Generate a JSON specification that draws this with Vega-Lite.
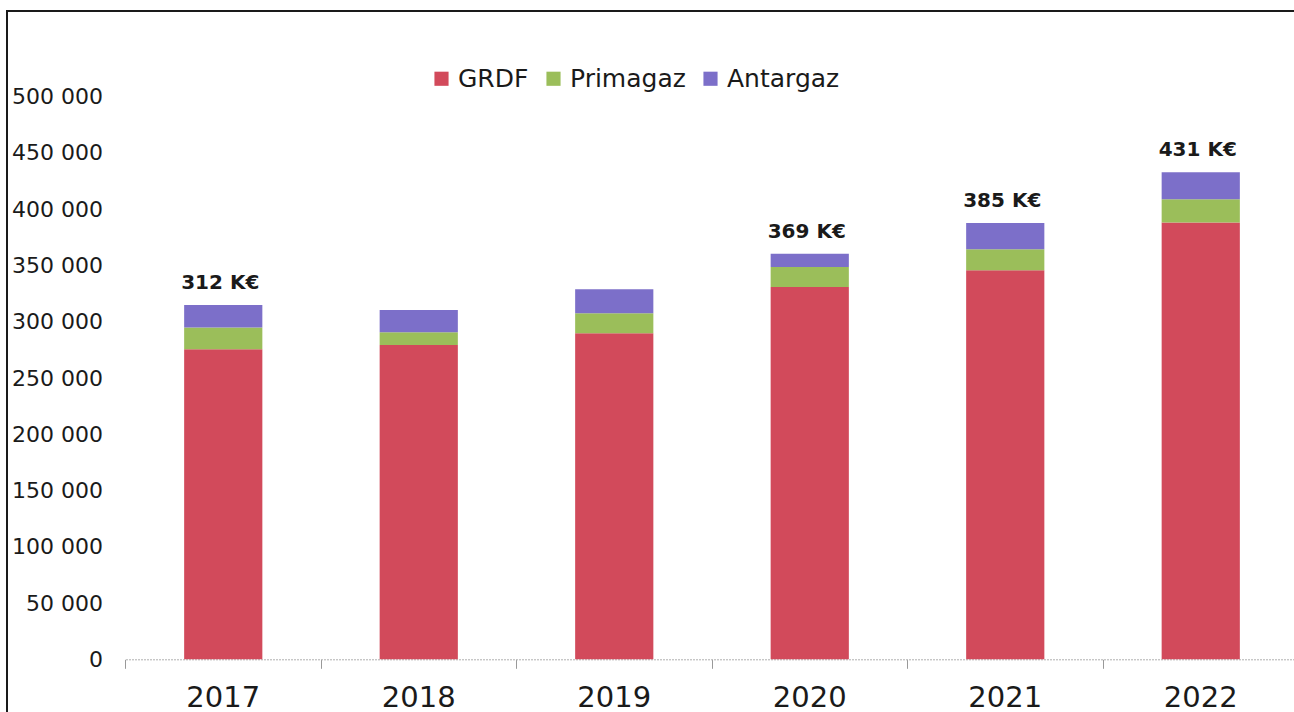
{
  "$schema": "https://vega.github.io/schema/vega-lite/v6.json",
  "autosize": "none",
  "padding": {"left": 7, "top": 11, "right": 0, "bottom": 0},
  "width": 1330,
  "height": 730,
  "background": "white",
  "config": {
    "locale": {"number": {"decimal": ",", "thousands": " ", "grouping": [3], "currency": ["", " €"]}},
    "view": {"stroke": "#1a1a1a", "strokeWidth": 2},
    "font": "DejaVu Sans"
  },
  "datasets": {
    "gaz": [
      {"year": "2017", "supplier": "GRDF", "value": 275600},
      {"year": "2017", "supplier": "Primagaz", "value": 19200},
      {"year": "2017", "supplier": "Antargaz", "value": 20100},
      {"year": "2018", "supplier": "GRDF", "value": 279400},
      {"year": "2018", "supplier": "Primagaz", "value": 11300},
      {"year": "2018", "supplier": "Antargaz", "value": 19800},
      {"year": "2019", "supplier": "GRDF", "value": 289800},
      {"year": "2019", "supplier": "Primagaz", "value": 17800},
      {"year": "2019", "supplier": "Antargaz", "value": 21300},
      {"year": "2020", "supplier": "GRDF", "value": 330900},
      {"year": "2020", "supplier": "Primagaz", "value": 17800},
      {"year": "2020", "supplier": "Antargaz", "value": 11800},
      {"year": "2021", "supplier": "GRDF", "value": 345800},
      {"year": "2021", "supplier": "Primagaz", "value": 18600},
      {"year": "2021", "supplier": "Antargaz", "value": 23400},
      {"year": "2022", "supplier": "GRDF", "value": 388100},
      {"year": "2022", "supplier": "Primagaz", "value": 20800},
      {"year": "2022", "supplier": "Antargaz", "value": 24000}
    ],
    "labels": [
      {"year": "2017", "label": "312 K€"},
      {"year": "2020", "label": "369 K€"},
      {"year": "2021", "label": "385 K€"},
      {"year": "2022", "label": "431 K€"}
    ]
  },
  "data": {"name": "gaz"},
  "encoding": {
    "x": {
      "field": "year",
      "type": "ordinal",
      "scale": {"range": [118.5, 1291.5], "paddingInner": 0.6, "paddingOuter": 0.3},
      "axis": {
        "title": null,
        "orient": "bottom",
        "offset": -81.7,
        "labelAngle": 0,
        "labelFontSize": 29,
        "labelColor": "#1a1a1a",
        "labelPadding": 15,
        "bandPosition": -0.75,
        "tickSize": 9,
        "tickColor": "#999999",
        "domainColor": "#b0b0b0",
        "domainDash": [2, 1],
        "domainWidth": 1,
        "grid": false
      }
    }
  },
  "layer": [
    {
      "transform": [
        {"calculate": "indexof(['GRDF','Primagaz','Antargaz'], datum.supplier)", "as": "stackOrder"}
      ],
      "mark": {"type": "bar"},
      "encoding": {
        "y": {
          "field": "value",
          "type": "quantitative",
          "aggregate": "sum",
          "stack": "zero",
          "scale": {"domain": [0, 500000], "range": [648.3, 85.7], "nice": false, "zero": true},
          "axis": {
            "title": null,
            "orient": "left",
            "offset": -118.5,
            "values": [0, 50000, 100000, 150000, 200000, 250000, 300000, 350000, 400000, 450000, 500000],
            "format": ",d",
            "labelFontSize": 22,
            "labelColor": "#1a1a1a",
            "labelPadding": 23,
            "ticks": false,
            "domain": false,
            "grid": false
          }
        },
        "order": {"field": "stackOrder", "type": "quantitative", "sort": "ascending"},
        "color": {
          "field": "supplier",
          "type": "nominal",
          "sort": ["GRDF", "Primagaz", "Antargaz"],
          "scale": {"domain": ["GRDF", "Primagaz", "Antargaz"], "range": ["#d24a5b", "#9bbe5a", "#7c6fc9"]},
          "legend": {
            "title": null,
            "orient": "none",
            "direction": "horizontal",
            "legendX": 422,
            "legendY": 55,
            "symbolType": "square",
            "symbolSize": 200,
            "symbolStrokeWidth": 0,
            "labelFontSize": 25,
            "labelColor": "#1a1a1a",
            "labelOffset": 4,
            "columnPadding": 12
          }
        }
      }
    },
    {
      "transform": [
        {"aggregate": [{"op": "sum", "field": "value", "as": "total"}], "groupby": ["year"]},
        {"lookup": "year", "from": {"data": {"name": "labels"}, "key": "year", "fields": ["label"]}},
        {"filter": "datum.label != null"}
      ],
      "mark": {"type": "text", "dy": -22, "dx": -3, "baseline": "middle", "fontSize": 20, "fontWeight": "bold", "color": "#1a1a1a"},
      "encoding": {
        "y": {"field": "total", "type": "quantitative"},
        "text": {"field": "label"}
      }
    }
  ]
}
